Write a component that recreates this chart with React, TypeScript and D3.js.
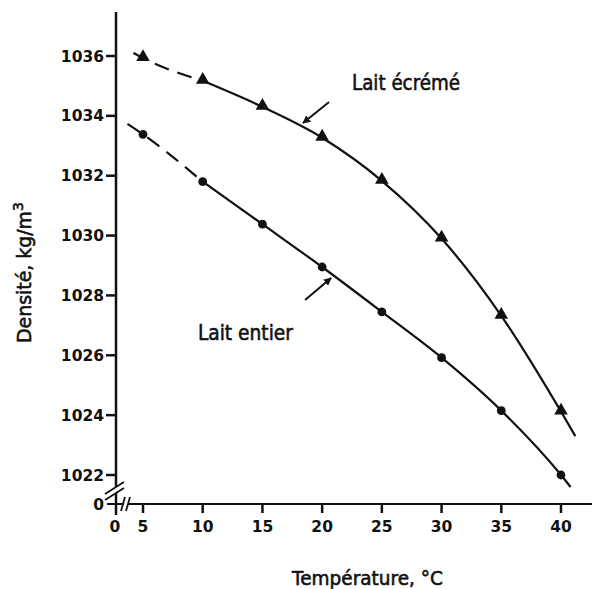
import { useEffect, useRef } from "react";
import * as d3 from "d3";

// températures mesurées (°C)
const temps = [5, 10, 15, 20, 25, 30, 35, 40];
// densité, kg/m3
const laitEcreme = [1035.93, 1035.17, 1034.3, 1033.27, 1031.83, 1029.9, 1027.32, 1024.12];
const laitEntier = [1033.38, 1031.8, 1030.38, 1028.95, 1027.45, 1025.92, 1024.15, 1022.0];
// extrapolation at each end of the curves [temp, densité]
const ecremeEnds = [[4.2, 1036.1], [41.2, 1023.3]];
const entierEnds = [[3.7, 1033.73], [40.8, 1021.6]];
const xTicks = [5, 10, 15, 20, 25, 30, 35, 40];
const yTicks = [1022, 1024, 1026, 1028, 1030, 1032, 1034, 1036];

function App() {
  const ref = useRef(null);

  useEffect(() => {
    document.body.style.margin = "0";
    document.body.style.overflow = "hidden";
    const width = 592;
    const height = 589;
    const svg = d3.select(ref.current);
    svg.selectAll("*").remove();
    svg.attr("width", width).attr("height", height);

    const x = d3.scaleLinear().domain([5, 40]).range([143, 561]);
    const y = d3.scaleLinear().domain([1022, 1036]).range([475, 56]);
    const x0 = 116; // origin "0" (axis break)
    const y0 = 504;
    const tickFont = "'DejaVu Sans', sans-serif";
    const labelFont = "'DejaVu Sans', sans-serif";

    svg.append("rect").attr("width", width).attr("height", height).attr("fill", "#fff");

    const defs = svg.append("defs");
    defs.append("marker")
      .attr("id", "arrow")
      .attr("viewBox", "0 0 10 10")
      .attr("refX", 9).attr("refY", 5)
      .attr("markerWidth", 4).attr("markerHeight", 4)
      .attr("orient", "auto")
      .append("path").attr("d", "M0,0L10,5L0,10Z").attr("fill", "#111");

    // y axis
    svg.append("line").attr("x1", x0).attr("x2", x0).attr("y1", 12).attr("y2", 515)
      .attr("stroke", "#111").attr("stroke-width", 2.5);
    // x axis
    svg.append("line").attr("x1", 107).attr("x2", 592).attr("y1", y0).attr("y2", y0)
      .attr("stroke", "#111").attr("stroke-width", 2);

    const yt = svg.append("g");
    yTicks.forEach((v) => {
      yt.append("line").attr("x1", x0 - 10).attr("x2", x0).attr("y1", y(v)).attr("y2", y(v))
        .attr("stroke", "#111").attr("stroke-width", 2.5);
      yt.append("text").attr("x", x0 - 12).attr("y", y(v)).attr("dy", "0.36em")
        .attr("text-anchor", "end").attr("font-family", tickFont).attr("font-weight", "bold")
        .attr("font-size", 15.5).attr("fill", "#111").text(v);
    });
    yt.append("text").attr("x", x0 - 12).attr("y", y0).attr("dy", "0.36em")
      .attr("text-anchor", "end").attr("font-family", tickFont).attr("font-weight", "bold")
      .attr("font-size", 15.5).attr("fill", "#111").text("0");

    const xt = svg.append("g");
    xTicks.forEach((v) => {
      xt.append("line").attr("x1", x(v)).attr("x2", x(v)).attr("y1", y0).attr("y2", y0 + 9)
        .attr("stroke", "#111").attr("stroke-width", 2.5);
      xt.append("text").attr("x", x(v)).attr("y", y0 + 28).attr("text-anchor", "middle")
        .attr("font-family", tickFont).attr("font-weight", "bold").attr("font-size", 15.5)
        .attr("fill", "#111").text(v);
    });
    xt.append("text").attr("x", x0 - 1).attr("y", y0 + 28).attr("text-anchor", "middle")
      .attr("font-family", tickFont).attr("font-weight", "bold").attr("font-size", 15.5)
      .attr("fill", "#111").text("0");

    // axis breaks
    svg.append("polygon").attr("points", "105,494 124,482 124,488 105,500").attr("fill", "#fff");
    svg.append("line").attr("x1", 105).attr("y1", 494).attr("x2", 124).attr("y2", 482)
      .attr("stroke", "#111").attr("stroke-width", 1.8);
    svg.append("line").attr("x1", 105).attr("y1", 500).attr("x2", 124).attr("y2", 488)
      .attr("stroke", "#111").attr("stroke-width", 1.8);
    svg.append("polygon").attr("points", "122,511 126,497 130,497 126,511").attr("fill", "#fff");
    svg.append("line").attr("x1", 121).attr("y1", 511).attr("x2", 125).attr("y2", 497)
      .attr("stroke", "#111").attr("stroke-width", 1.8);
    svg.append("line").attr("x1", 126).attr("y1", 511).attr("x2", 130).attr("y2", 497)
      .attr("stroke", "#111").attr("stroke-width", 1.8);

    const line = d3.line().x((d) => x(d[0])).y((d) => y(d[1])).curve(d3.curveMonotoneX);

    const drawSeries = (vals, ends, marker) => {
      const pts = temps.map((t, i) => [t, vals[i]]);
      const all = [ends[0], ...pts, ends[1]];
      const dashed = all.filter((d) => d[0] <= 10);
      const solid = all.filter((d) => d[0] >= 10);
      svg.append("path").datum(dashed).attr("d", line).attr("fill", "none")
        .attr("stroke", "#111").attr("stroke-width", 2.2).attr("stroke-dasharray", "15,9");
      svg.append("path").datum(solid).attr("d", line).attr("fill", "none")
        .attr("stroke", "#111").attr("stroke-width", 2.2);
      pts.forEach((d) => {
        if (marker === "tri") {
          svg.append("path")
            .attr("d", d3.symbol().type(d3.symbolTriangle).size(80)())
            .attr("transform", `translate(${x(d[0])},${y(d[1]) - 1})`).attr("fill", "#111");
        } else {
          svg.append("circle").attr("cx", x(d[0])).attr("cy", y(d[1])).attr("r", 4.4)
            .attr("fill", "#111");
        }
      });
    };
    drawSeries(laitEcreme, ecremeEnds, "tri");
    drawSeries(laitEntier, entierEnds, "dot");

    // annotations (data units)
    svg.append("line").attr("x1", x(20.58)).attr("y1", y(1034.46)).attr("x2", x(18.4)).attr("y2", y(1033.76))
      .attr("stroke", "#111").attr("stroke-width", 2).attr("marker-end", "url(#arrow)");
    svg.append("line").attr("x1", x(18.57)).attr("y1", y(1027.85)).attr("x2", x(20.75)).attr("y2", y(1028.58))
      .attr("stroke", "#111").attr("stroke-width", 2).attr("marker-end", "url(#arrow)");

    const label = (tx, ty, str, len, size) =>
      svg.append("text").attr("x", tx).attr("y", ty).attr("font-family", labelFont)
        .attr("font-size", size).attr("fill", "#111").attr("stroke", "#111")
        .attr("stroke-width", 0.6).attr("textLength", len)
        .attr("lengthAdjust", "spacingAndGlyphs").text(str);
    label(x(22.5), y(1034.86), "Lait écrémé", 108, 21);
    label(x(9.6), y(1026.51), "Lait entier", 95, 21);

    // axis titles
    label(292, 585, "Température, °C", 151, 20);
    const yl = svg.append("text").attr("transform", "translate(31,343) rotate(-90)")
      .attr("font-family", labelFont).attr("font-size", 20).attr("fill", "#111")
      .attr("stroke", "#111").attr("stroke-width", 0.6);
    yl.append("tspan").attr("textLength", 132).attr("lengthAdjust", "spacingAndGlyphs")
      .text("Densité, kg/m");
    yl.append("tspan").attr("dy", -8).attr("font-size", 14).text("3");
  }, []);

  return (
    <div>
      <svg ref={ref} style={{ display: "block" }}></svg>
    </div>
  );
}

export default App;
